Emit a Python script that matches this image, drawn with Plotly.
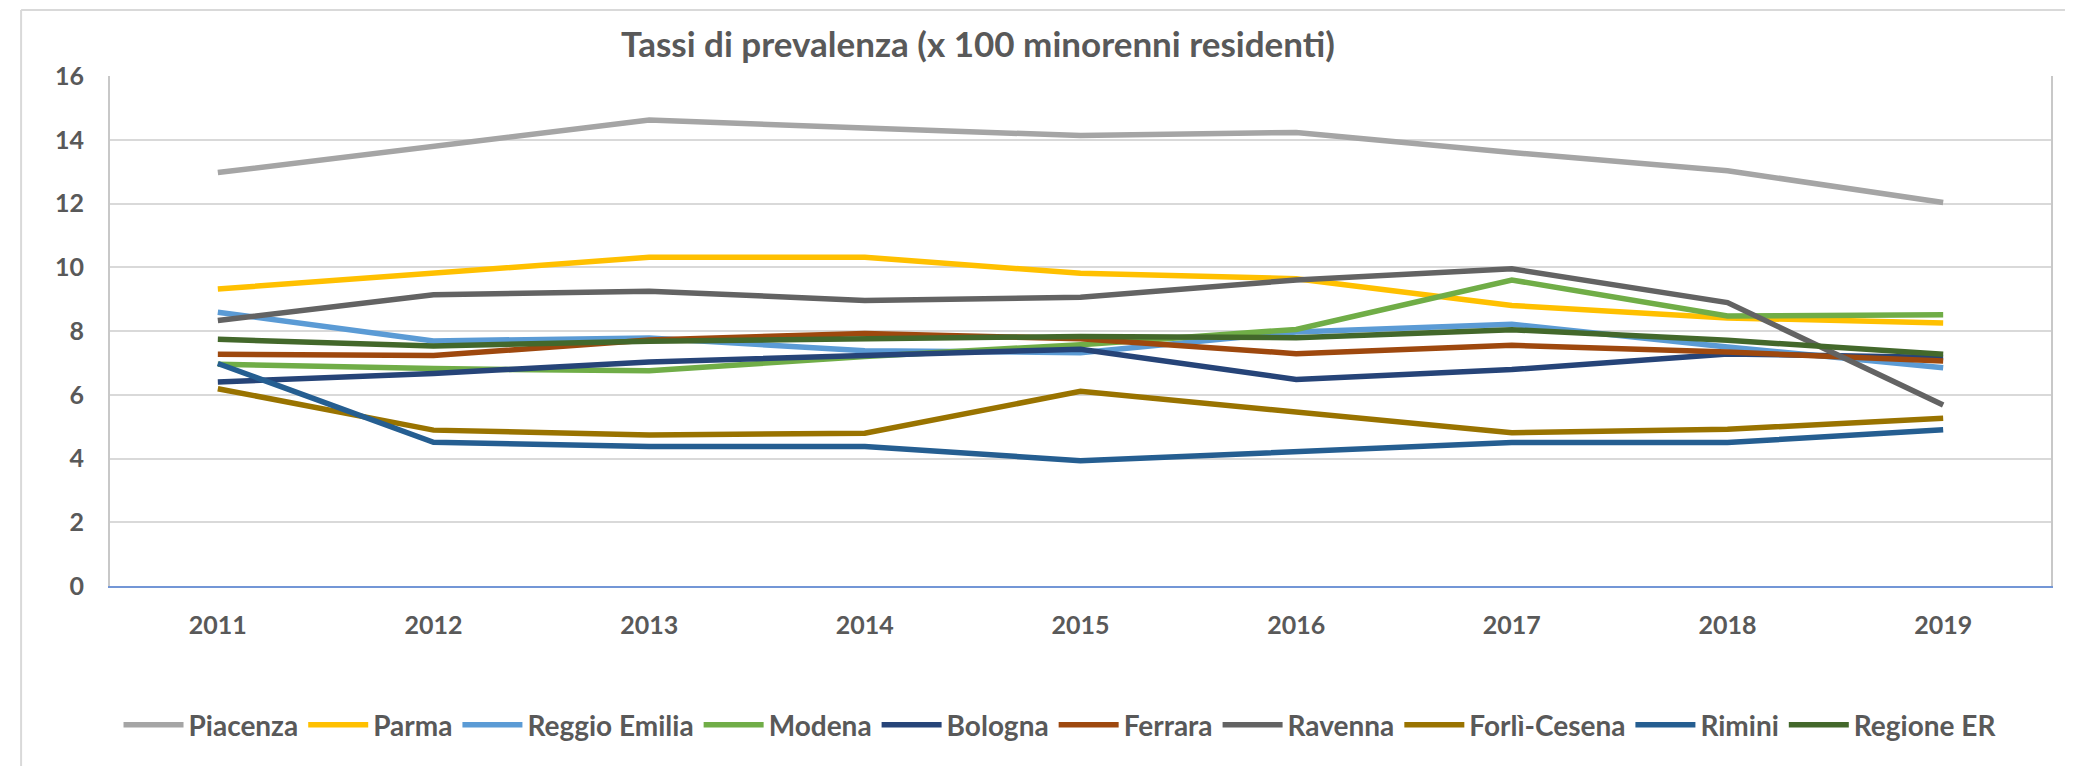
import plotly.graph_objects as go

years = ["2011", "2012", "2013", "2014", "2015", "2016", "2017", "2018", "2019"]

piacenza = [12.97, 13.79, 14.62, 14.37, 14.13, 14.23, 13.60, 13.03, 12.03]
parma = [9.32, 9.81, 10.31, 10.31, 9.81, 9.64, 8.80, 8.41, 8.25]
reggio_emilia = [8.59, 7.69, 7.78, 7.38, 7.32, 7.97, 8.21, 7.50, 6.85]
modena = [6.96, 6.82, 6.75, 7.20, 7.57, 8.05, 9.60, 8.47, 8.51]
bologna = [6.40, 6.67, 7.03, 7.24, 7.43, 6.48, 6.79, 7.28, 7.17]
ferrara = [7.27, 7.23, 7.72, 7.92, 7.76, 7.29, 7.55, 7.34, 7.06]
ravenna = [8.33, 9.14, 9.25, 8.96, 9.06, 9.60, 9.95, 8.89, 5.68]
forli_cesena = [6.19, 4.89, 4.74, 4.79, 6.11, 5.47, 4.81, 4.92, 5.26]
rimini = [6.98, 4.51, 4.38, 4.38, 3.93, 4.22, 4.50, 4.50, 4.90]
regione_er = [7.74, 7.53, 7.68, 7.76, 7.83, 7.79, 8.04, 7.71, 7.27]

series_names = ["Piacenza", "Parma", "Reggio Emilia", "Modena", "Bologna",
                "Ferrara", "Ravenna", "Forlì-Cesena", "Rimini", "Regione ER"]
series_values = [piacenza, parma, reggio_emilia, modena, bologna,
                 ferrara, ravenna, forli_cesena, rimini, regione_er]
series_colors = ["#A5A5A5", "#FFC000", "#5B9BD5", "#70AD47", "#264478",
                 "#9E480E", "#636363", "#997300", "#255E91", "#43682B"]

title_text = "Tassi di prevalenza (x 100 minorenni residenti)"

FONT = "Lato"
TXT = "#595959"

fig = go.Figure()
for name, vals, col in zip(series_names, series_values, series_colors):
    fig.add_trace(go.Scatter(
        x=years, y=vals, name=name, mode="lines",
        line=dict(color=col, width=5.5),
    ))

# page body adds an 8px offset; work in window pixels and convert
O = 8
W, H = 2073 - 2 * O, 774 - 2 * O
PL, PR, PT, PB = 110, 2053, 76, 586  # plot area in window pixels
ml = PL - O
mt = PT - O
mr = (W + O) - PR
mb = (H + O) - PB
pw = PR - PL
ph = PB - PT


def px_x(px):
    return (px - PL) / pw


def px_y(py):
    return (PB - py) / ph


fig.update_layout(
    width=W, height=H,
    margin=dict(l=ml, r=mr, t=mt, b=mb, pad=0),
    paper_bgcolor="white", plot_bgcolor="white",
    font=dict(family=FONT, color=TXT),
    title=dict(
        text=title_text, x=(978 - O) / W, xref="container", xanchor="center",
        y=1 - (45 - O) / H, yref="container", yanchor="middle",
        font=dict(family=FONT, size=35, color=TXT, weight="bold"),
    ),
    showlegend=True,
    legend=dict(
        orientation="h", x=px_x(1061), xanchor="center",
        y=px_y(725), yanchor="middle",
        font=dict(family=FONT, size=28, color=TXT, weight="bold"),
        itemwidth=60, bgcolor="rgba(0,0,0,0)",
    ),
    xaxis=dict(
        type="category", range=[-0.5, 8.5],
        showgrid=False, showline=True, linecolor="#7396D6", linewidth=2,
        ticks="", ticklabelstandoff=16,
        tickfont=dict(family=FONT, size=25, color=TXT, weight="bold"),
        zeroline=False, fixedrange=True,
    ),
    yaxis=dict(
        range=[0, 16], dtick=2, tick0=0,
        showgrid=True, gridcolor="#D9D9D9", gridwidth=2,
        showline=True, linecolor="#C8C8C8", linewidth=2, mirror=True,
        ticks="", ticklabelstandoff=19,
        tickfont=dict(family=FONT, size=25, color=TXT, weight="bold"),
        zeroline=False, fixedrange=True,
    ),
    shapes=[
        dict(type="line", xref="paper", yref="paper",
             x0=px_x(21), x1=px_x(21), y0=px_y(10), y1=px_y(H + O + 5),
             line=dict(color="#D9D9D9", width=2)),
        dict(type="line", xref="paper", yref="paper",
             x0=px_x(21), x1=px_x(W + O + 5), y0=px_y(10), y1=px_y(10),
             line=dict(color="#D9D9D9", width=2)),
    ],
)

fig.write_html("out.html")
